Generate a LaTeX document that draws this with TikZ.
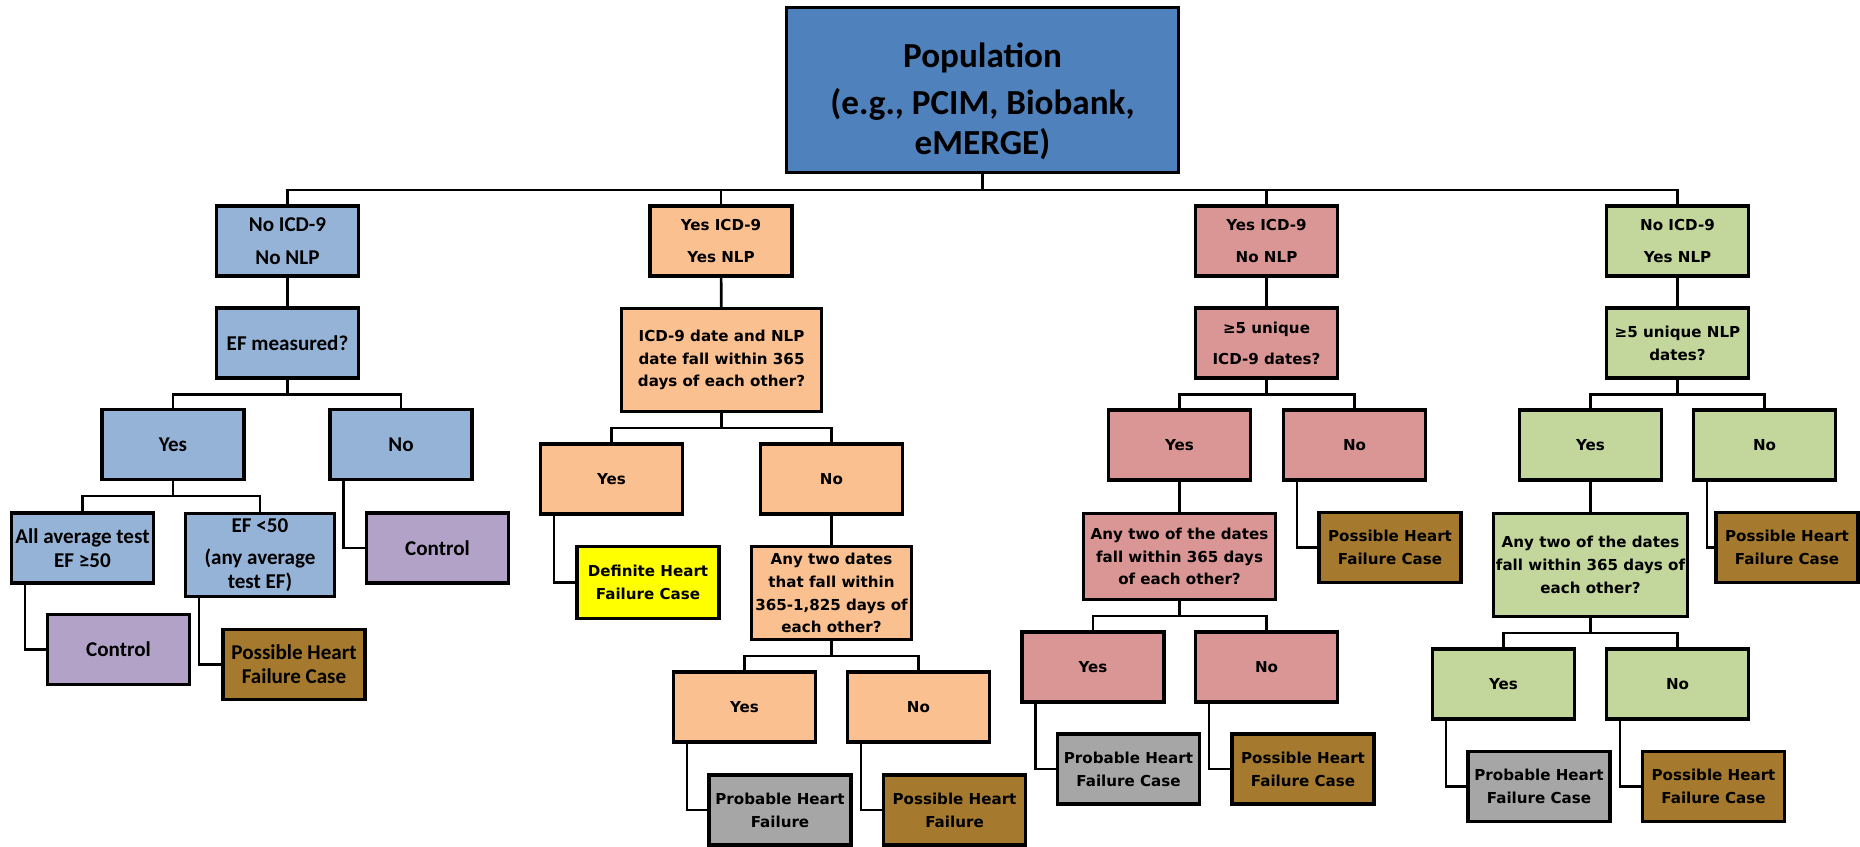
\documentclass[tikz,border=0pt]{standalone}
\usepackage{fontspec}
\setmainfont{Carlito}
\newfontfamily\verdfont{DejaVu Sans}
\usepackage{tikz}
\usetikzlibrary{positioning}

\definecolor{popblue}{HTML}{4F81BD}
\definecolor{noneblue}{HTML}{95B3D7}
\definecolor{bothpeach}{HTML}{FAC090}
\definecolor{icdpink}{HTML}{D99694}
\definecolor{nlpgreen}{HTML}{C3D69B}
\definecolor{ctrlpurple}{HTML}{B3A2C7}
\definecolor{possbrown}{HTML}{A57A2F}
\definecolor{probgray}{HTML}{A6A6A6}
\definecolor{defyellow}{HTML}{FFFF00}

\tikzset{
  box/.style={draw, line width=1.8pt, minimum width=2.84cm, minimum height=1.4cm, align=center, inner sep=1pt},
  cal/.style={box, font=\bfseries\fontsize{12}{13.5}\selectfont},
  ver/.style={box, font=\verdfont\bfseries\fontsize{8.6}{13}\selectfont},
  link/.style={line width=1.5pt},
}

\begin{document}
\begin{tikzpicture}[x=0.02cm, y=-0.02cm]
  \path[use as bounding box, fill=white] (0,0) rectangle (1860,847);

  % Population
  \node[box, fill=popblue, minimum width=7.84cm, minimum height=3.3cm, font=\bfseries\fontsize{20}{23}\selectfont] (pop) at (982.5,90) {\rule{0pt}{27pt}Population\\[4pt](e.g., PCIM, Biobank,\\eMERGE)};

  % ICD-9 / NLP groups
  \node[cal, fill=noneblue] (nono) at (287.5,241) {No ICD-9\\[5pt]No NLP};
  \node[ver, fill=bothpeach] (yesyes) at (721,241) {Yes ICD-9\\[5pt]Yes NLP};
  \node[ver, fill=icdpink] (yesno) at (1266.5,241) {Yes ICD-9\\[5pt]No NLP};
  \node[ver, fill=nlpgreen] (noyes) at (1677.5,241) {No ICD-9\\[5pt]Yes NLP};
  \foreach \n in {nono,yesyes,yesno,noyes} {
    \draw[link] (pop.south) -- ++(0,-0.32cm) -| (\n.north);
  }

  % No ICD-9, No NLP
  \node[cal, fill=noneblue] (efq) at (287.5,343) {EF measured?};
  \node[cal, fill=noneblue] (efyes) at (173,444.5) {Yes};
  \node[cal, fill=noneblue] (efno) at (401,444.5) {No};
  \node[cal, fill=noneblue] (efhigh) at (82.5,548) {All average test\\EF ≥50};
  \node[cal, fill=noneblue, minimum width=2.98cm, minimum height=1.66cm] (eflow) at (260,555) {EF <50\\[5pt](any average\\test EF)};
  \node[cal, fill=ctrlpurple] (ctrlno) at (437.5,548) {Control};
  \node[cal, fill=ctrlpurple] (ctrlhigh) at (118.5,649.5) {Control};
  \node[cal, fill=possbrown] (posslow) at (294,664.5) {Possible Heart\\Failure Case};
  \draw[link] (nono) -- (efq);
  \draw[link] (efq.south) -- ++(0,-0.3cm) -| (efyes.north);
  \draw[link] (efq.south) -- ++(0,-0.3cm) -| (efno.north);
  \draw[link] (efyes.south) -- ++(0,-0.3cm) -| (efhigh.north);
  \draw[link] (efyes.south) -- ++(0,-0.3cm) -| (eflow.north);
  \draw[link] ([xshift=0.3cm]efno.south west) |- (ctrlno.west);
  \draw[link] ([xshift=0.3cm]efhigh.south west) |- (ctrlhigh.west);
  \draw[link] ([xshift=0.3cm]eflow.south west) |- (posslow.west);

  % Yes ICD-9, Yes NLP
  \node[ver, fill=bothpeach, minimum width=4.0cm, minimum height=2.06cm] (bothq) at (721.5,360) {ICD-9 date and NLP\\date fall within 365\\days of each other?};
  \node[ver, fill=bothpeach] (bothyes) at (611.5,479) {Yes};
  \node[ver, fill=bothpeach] (bothno) at (831.5,479) {No};
  \node[ver, fill=defyellow, minimum height=1.44cm] (defhf) at (648,582.5) {Definite Heart\\Failure Case};
  \node[ver, fill=bothpeach, minimum width=3.2cm, minimum height=1.86cm, inner xsep=0pt] (anytwo) at (831.5,593) {Any two dates\\that fall within\\365-1,825 days of\\each other?};
  \node[ver, fill=bothpeach] (anyyes) at (744.5,707) {Yes};
  \node[ver, fill=bothpeach] (anyno) at (918.5,707) {No};
  \node[ver, fill=probgray] (probhf) at (780,810) {Probable Heart\\Failure};
  \node[ver, fill=possbrown] (posshf) at (954.5,810) {Possible Heart\\Failure};
  \draw[link] (yesyes) -- (bothq);
  \draw[link] (bothq.south) -- ++(0,-0.3cm) -| (bothyes.north);
  \draw[link] (bothq.south) -- ++(0,-0.3cm) -| (bothno.north);
  \draw[link] ([xshift=0.3cm]bothyes.south west) |- (defhf.west);
  \draw[link] (bothno) -- (anytwo);
  \draw[link] (anytwo.south) -- ++(0,-0.3cm) -| (anyyes.north);
  \draw[link] (anytwo.south) -- ++(0,-0.3cm) -| (anyno.north);
  \draw[link] ([xshift=0.3cm]anyyes.south west) |- (probhf.west);
  \draw[link] ([xshift=0.3cm]anyno.south west) |- (posshf.west);

  % Yes ICD-9, No NLP
  \node[ver, fill=icdpink] (icdq) at (1266.5,343) {≥5 unique\\[4.5pt]ICD-9 dates?};
  \node[ver, fill=icdpink] (icdyes) at (1179.5,445) {Yes};
  \node[ver, fill=icdpink] (icdno) at (1354.5,445) {No};
  \node[ver, fill=icdpink, minimum width=3.84cm, minimum height=1.72cm] (icdtwo) at (1179.5,556.5) {Any two of the dates\\fall within 365 days\\of each other?};
  \node[ver, fill=possbrown] (icdposs) at (1390,547.5) {Possible Heart\\Failure Case};
  \node[ver, fill=icdpink] (icdtwoyes) at (1093,667) {Yes};
  \node[ver, fill=icdpink] (icdtwono) at (1266.5,667) {No};
  \node[ver, fill=probgray] (icdprob) at (1128.5,769) {Probable Heart\\Failure Case};
  \node[ver, fill=possbrown] (icdposs2) at (1303,769) {Possible Heart\\Failure Case};
  \draw[link] (yesno) -- (icdq);
  \draw[link] (icdq.south) -- ++(0,-0.3cm) -| (icdyes.north);
  \draw[link] (icdq.south) -- ++(0,-0.3cm) -| (icdno.north);
  \draw[link] (icdyes) -- (icdtwo);
  \draw[link] ([xshift=0.3cm]icdno.south west) |- (icdposs.west);
  \draw[link] (icdtwo.south) -- ++(0,-0.3cm) -| (icdtwoyes.north);
  \draw[link] (icdtwo.south) -- ++(0,-0.3cm) -| (icdtwono.north);
  \draw[link] ([xshift=0.3cm]icdtwoyes.south west) |- (icdprob.west);
  \draw[link] ([xshift=0.3cm]icdtwono.south west) |- (icdposs2.west);

  % No ICD-9, Yes NLP
  \node[ver, fill=nlpgreen] (nlpq) at (1677.5,343) {≥5 unique NLP\\dates?};
  \node[ver, fill=nlpgreen] (nlpyes) at (1590.5,445) {Yes};
  \node[ver, fill=nlpgreen] (nlpno) at (1764.5,445) {No};
  \node[ver, fill=nlpgreen, minimum width=3.88cm, minimum height=2.06cm, inner xsep=0pt] (nlptwo) at (1590.5,565) {Any two of the dates\\fall within 365 days of\\each other?};
  \node[ver, fill=possbrown] (nlpposs) at (1787,547.5) {Possible Heart\\Failure Case};
  \node[ver, fill=nlpgreen] (nlptwoyes) at (1503.5,684) {Yes};
  \node[ver, fill=nlpgreen] (nlptwono) at (1677.5,684) {No};
  \node[ver, fill=probgray] (nlpprob) at (1539,786.5) {Probable Heart\\Failure Case};
  \node[ver, fill=possbrown] (nlpposs2) at (1713.5,786.5) {Possible Heart\\Failure Case};
  \draw[link] (noyes) -- (nlpq);
  \draw[link] (nlpq.south) -- ++(0,-0.3cm) -| (nlpyes.north);
  \draw[link] (nlpq.south) -- ++(0,-0.3cm) -| (nlpno.north);
  \draw[link] (nlpyes) -- (nlptwo);
  \draw[link] ([xshift=0.3cm]nlpno.south west) |- (nlpposs.west);
  \draw[link] (nlptwo.south) -- ++(0,-0.3cm) -| (nlptwoyes.north);
  \draw[link] (nlptwo.south) -- ++(0,-0.3cm) -| (nlptwono.north);
  \draw[link] ([xshift=0.3cm]nlptwoyes.south west) |- (nlpprob.west);
  \draw[link] ([xshift=0.3cm]nlptwono.south west) |- (nlpposs2.west);
\end{tikzpicture}
\end{document}
